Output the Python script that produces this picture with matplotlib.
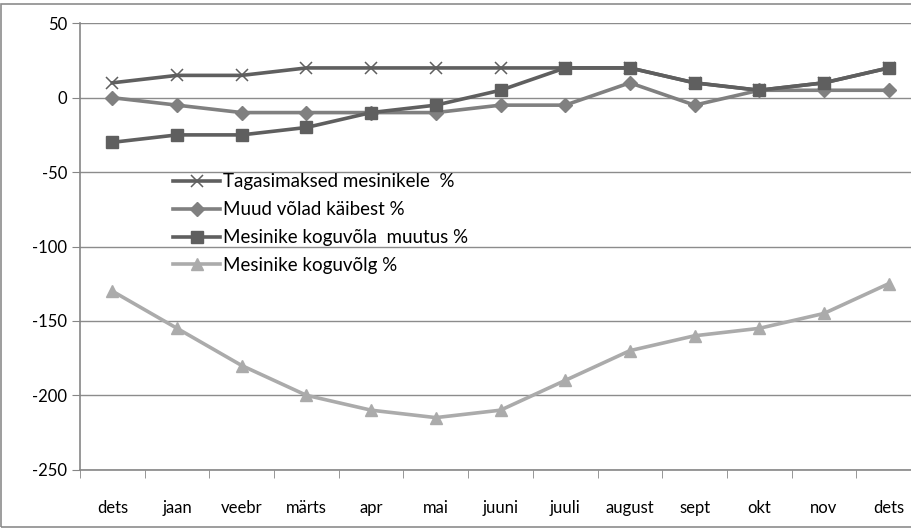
import matplotlib.pyplot as plt
from matplotlib.patches import Rectangle

plt.rcParams['font.family'] = ['Lato', 'DejaVu Sans']
plt.rcParams['axes.unicode_minus'] = False

# andmed
kuud = ['dets', 'jaan', 'veebr', 'märts', 'apr', 'mai', 'juuni', 'juuli',
        'august', 'sept', 'okt', 'nov', 'dets']
tagasimaksed = [10, 15, 15, 20, 20, 20, 20, 20, 20, 10, 5, 10, 20]
muud_volad = [0, -5, -10, -10, -10, -10, -5, -5, 10, -5, 5, 5, 5]
koguvola_muutus = [-30, -25, -25, -20, -10, -5, 5, 20, 20, 10, 5, 10, 20]
koguvolg = [-130, -155, -180, -200, -210, -215, -210, -190, -170, -160, -155, -145, -125]

x = list(range(len(kuud)))

fig = plt.figure(figsize=(9.12, 5.29), dpi=100)
# raam ümber kogu joonise
fig.patches.append(Rectangle((1 / 912, 2 / 529), 1.2, 523 / 529, transform=fig.transFigure,
                             fill=False, edgecolor='#8c8c8c', linewidth=1.2))
ax = fig.add_axes([80 / 912, 59.3 / 529, 841 / 912, 446.4 / 529])

ax.plot(x, tagasimaksed, color='#5f5f5f', lw=2.6, marker='x', ms=9, mew=1.1,
        label='Tagasimaksed mesinikele  %')
ax.plot(x, muud_volad, color='#808080', lw=2.6, marker='D', ms=7,
        label='Muud võlad käibest %')
ax.plot(x, koguvola_muutus, color='#5f5f5f', lw=2.6, marker='s', ms=8.5,
        label='Mesinike koguvõla  muutus %')
ax.plot(x, koguvolg, color='#ababab', lw=2.6, marker='^', ms=9,
        label='Mesinike koguvõlg %')

ax.set_xlim(-0.5, len(kuud) - 0.5)
ax.set_ylim(-250, 50)
ax.set_yticks(range(-250, 51, 50))
ax.set_xticks(x)
ax.set_xticklabels(kuud)
ax.set_xticks([i - 0.5 for i in range(len(kuud) + 1)], minor=True)
ax.tick_params(axis='x', which='major', length=0, pad=22, labelsize=12)
ax.tick_params(axis='x', which='minor', length=6, color='#868686', direction='out')
ax.tick_params(axis='y', length=6, color='#868686', direction='out', labelsize=12, pad=3)

ax.grid(axis='y', color='#8c8c8c', lw=1)
ax.set_axisbelow(True)
for s in ['top', 'right']:
    ax.spines[s].set_visible(False)
for s in ['left', 'bottom']:
    ax.spines[s].set_color('#868686')
    ax.spines[s].set_linewidth(1.2)

ax.legend(loc='upper left', bbox_to_anchor=(164 / 912, 1 - 164 / 529),
          bbox_transform=fig.transFigure, frameon=False, fontsize=13.5,
          handlelength=2.5, handletextpad=0.15, labelspacing=0.58, borderpad=0)

fig.savefig('out.png', dpi=100)
